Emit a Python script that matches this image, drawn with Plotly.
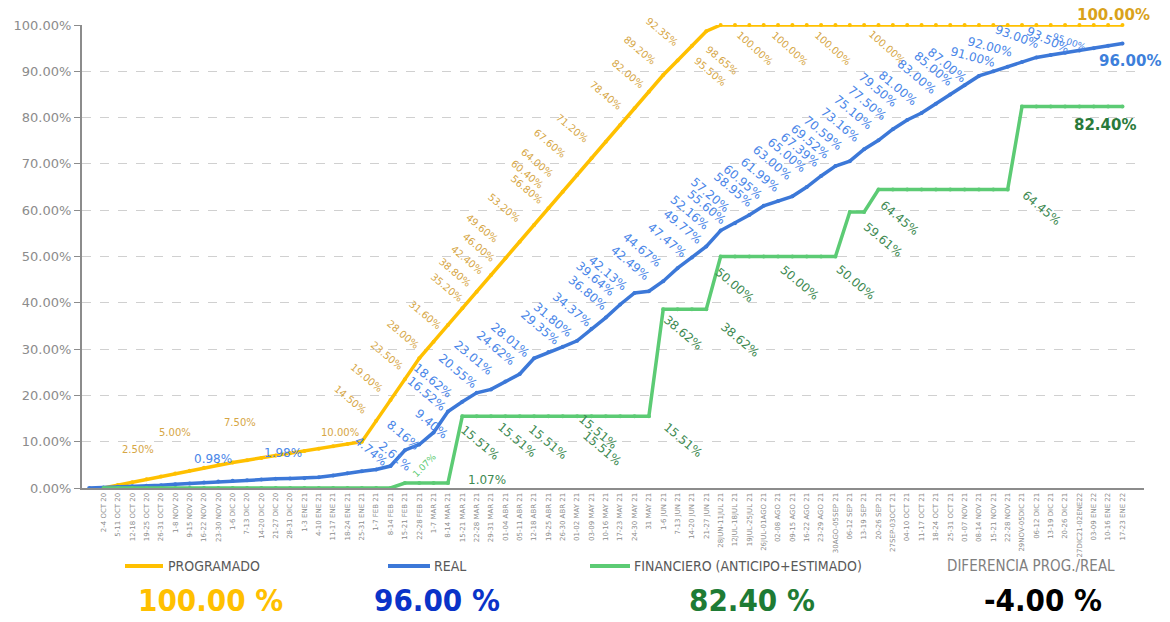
import plotly.graph_objects as go

# ---------------- DATA ----------------
categories = [
    "", "2-4 OCT 20", "5-11 OCT 20", "12-18 OCT 20", "19-25 OCT 20", "26-31 OCT 20",
    "1-8 NOV 20", "9-15 NOV 20", "16-22 NOV 20", "23-30 NOV 20", "1-6 DIC 20",
    "7-13 DIC 20", "14-20 DIC 20", "21-27 DIC 20", "28-31 DIC 20", "1-3 ENE 21",
    "4-10 ENE 21", "11-17 ENE 21", "18-24 ENE 21", "25-31 ENE 21", "1-7 FEB 21",
    "8-14 FEB 21", "15-21 FEB 21", "22-28 FEB 21", "1-7 MAR 21", "8-14 MAR 21",
    "15-21 MAR 21", "22-28 MAR 21", "29-31 MAR 21", "01-04 ABR 21", "05-11 ABR 21",
    "12-18 ABR 21", "19-25 ABR 21", "26-30 ABR 21", "01-02 MAY 21", "03-09 MAY 21",
    "10-16 MAY 21", "17-23 MAY 21", "24-30 MAY 21", "31 MAY 21", "1-6 JUN 21",
    "7-13 JUN 21", "14-20 JUN 21", "21-27 JUN 21", "28JUN-11JUL 21", "12JUL-18JUL 21",
    "19JUL-25JUL 21", "26JUL-01AGO 21", "02-08 AGO 21", "09-15 AGO 21", "16-22 AGO 21",
    "23-29 AGO 21", "30AGO-05SEP 21", "06-12 SEP 21", "13-19 SEP 21", "20-26 SEP 21",
    "27SEP-03OCT 21", "04-10 OCT 21", "11-17 OCT 21", "18-24 OCT 21", "25-31 OCT 21",
    "01-07 NOV 21", "08-14 NOV 21", "15-21 NOV 21", "22-28 NOV 21", "29NOV-05DIC 21",
    "06-12 DIC 21", "13-19 DIC 21", "20-26 DIC 21", "27DIC21-02ENE22", "03-09 ENE 22",
    "10-16 ENE 22", "17-23 ENE 22",
]

programado = [
    None, 0.00, 0.63, 1.25, 1.88, 2.50, 3.13, 3.75, 4.38, 5.00,
    5.50, 6.00, 6.50, 7.00, 7.50, 8.00, 8.50, 9.00, 9.50, 10.00,
    14.50, 19.00, 23.50, 28.00, 31.60, 35.20, 38.80, 42.40, 46.00, 49.60,
    53.20, 56.80, 60.40, 64.00, 67.60, 71.20, 74.80, 78.40, 82.00, 85.60,
    89.20, 92.35, 95.50, 98.65, 100.00, 100.00, 100.00, 100.00, 100.00, 100.00,
    100.00, 100.00, 100.00, 100.00, 100.00, 100.00, 100.00, 100.00, 100.00, 100.00,
    100.00, 100.00, 100.00, 100.00, 100.00, 100.00, 100.00, 100.00, 100.00, 100.00,
    100.00, 100.00, 100.00,
]

real = [
    0.00, 0.10, 0.25, 0.40, 0.50, 0.60, 0.80, 0.98, 1.20, 1.40,
    1.55, 1.70, 1.85, 1.98, 2.05, 2.10, 2.30, 2.70, 3.20, 3.60,
    4.00, 4.74, 8.16, 9.40, 12.00, 16.52, 18.62, 20.55, 21.30, 23.01,
    24.62, 28.01, 29.35, 30.50, 31.80, 34.37, 36.80, 39.64, 42.13, 42.49,
    44.67, 47.47, 49.77, 52.16, 55.60, 57.20, 58.95, 60.95, 61.99, 63.00,
    65.00, 67.39, 69.52, 70.59, 73.16, 75.10, 77.50, 79.50, 81.00, 83.00,
    85.00, 87.00, 89.00, 90.00, 91.00, 92.00, 93.00, 93.50, 94.00, 94.50,
    95.00, 95.50, 96.00,
]

financiero = [
    None, 0.00, 0.00, 0.00, 0.00, 0.00, 0.00, 0.00, 0.00, 0.00,
    0.00, 0.00, 0.00, 0.00, 0.00, 0.00, 0.00, 0.00, 0.00, 0.00,
    0.00, 0.00, 1.07, 1.07, 1.07, 1.07, 15.51, 15.51, 15.51, 15.51,
    15.51, 15.51, 15.51, 15.51, 15.51, 15.51, 15.51, 15.51, 15.51, 15.51,
    38.62, 38.62, 38.62, 38.62, 50.00, 50.00, 50.00, 50.00, 50.00, 50.00,
    50.00, 50.00, 50.00, 59.61, 59.61, 64.45, 64.45, 64.45, 64.45, 64.45,
    64.45, 64.45, 64.45, 64.45, 64.45, 82.40, 82.40, 82.40, 82.40, 82.40,
    82.40, 82.40, 82.40,
]

summary_names = ["PROGRAMADO", "REAL", "FINANCIERO (ANTICIPO+ESTIMADO)", "DIFERENCIA PROG./REAL"]
summary_values = ["100.00 %", "96.00 %", "82.40 %", "-4.00 %"]

# labelled points: (category index, text)
prog_labels = [(5, "2.50%"), (9, "5.00%"), (14, "7.50%"), (19, "10.00%"), (20, "14.50%"),
               (21, "19.00%"), (22, "23.50%"), (23, "28.00%"), (24, "31.60%"), (25, "35.20%"),
               (26, "38.80%"), (27, "42.40%"), (28, "46.00%"), (29, "49.60%"), (30, "53.20%"),
               (31, "56.80%"), (32, "60.40%"), (33, "64.00%"), (34, "67.60%"), (35, "71.20%"),
               (37, "78.40%"), (38, "82.00%"), (40, "89.20%"), (41, "92.35%"), (42, "95.50%"),
               (43, "98.65%"), (46, "100.00%"), (48, "100.00%"), (51, "100.00%"), (55, "100.00%")]
real_labels = [(7, "0.98%"), (13, "1.98%"), (21, "4.74%"), (21, "2.61%"), (22, "8.16%"),
               (23, "9.40%"), (25, "16.52%"), (26, "18.62%"), (27, "20.55%"), (29, "23.01%"),
               (30, "24.62%"), (31, "28.01%"), (32, "29.35%"), (34, "31.80%"), (35, "34.37%"),
               (36, "36.80%"), (37, "39.64%"), (38, "42.13%"), (39, "42.49%"), (40, "44.67%"),
               (41, "47.47%"), (42, "49.77%"), (43, "52.16%"), (44, "55.60%"), (45, "57.20%"),
               (46, "58.95%"), (47, "60.95%"), (48, "61.99%"), (49, "63.00%"), (50, "65.00%"),
               (51, "67.39%"), (52, "69.52%"), (53, "70.59%"), (54, "73.16%"), (55, "75.10%"),
               (56, "77.50%"), (57, "79.50%"), (58, "81.00%"), (59, "83.00%"), (60, "85.00%"),
               (61, "87.00%"), (64, "91.00%"), (65, "92.00%"), (66, "93.00%"), (67, "93.50%"),
               (70, "95.00%")]
fin_labels = [(22, "1.07%"), (25, "1.07%"), (26, "15.51%"), (28, "15.51%"), (30, "15.51%"),
              (34, "15.51%"), (35, "15.51%"), (39, "15.51%"), (40, "38.62%"), (43, "38.62%"),
              (44, "50.00%"), (48, "50.00%"), (52, "50.00%"), (54, "59.61%"), (55, "64.45%"),
              (64, "64.45%")]

# ---------------- LABEL PLACEMENT (pixel offsets dx, dy(down), angle) ----------------
prog_place = [(-23, -27, 0), (-43, -32, 0), (-50, -31, 0), (-22, -9, 0), (-26, -21, 40),
              (-24, -23, 40), (-18, -24, 40), (-16, -24, 40), (-9, -27, 40), (-1, -38, 40),
              (-7, -36, 40), (-10, -32, 40), (-12, -28, 40), (-23, -30, 40), (-16, -34, 40),
              (-7, -36, 40), (-21, -34, 40), (-26, -29, 40), (-27, -32, 40), (-19, -30, 40),
              (-14, -30, 40), (-7, -35, 40), (-23, -25, 40), (-16, -29, 40), (18, 26, 40),
              (16, 29, 40), (6, 23, 42), (12, 23, 42), (12, 23, 42), (9, 22, 42)]
real_place = [(23, -24, 0), (7, -26, 0), (-20, -15, 40), (4, -10, 40), (-2, -15, 40),
              (12, -20, 40), (-21, -18, 40), (-29, -21, 40), (-19, -22, 40), (-32, -23, 40),
              (-24, -26, 40), (-24, -18, 40), (-8, -24, 40), (-24, -21, 40), (-19, -19, 40),
              (-18, -25, 40), (-25, -25, 40), (-27, -20, 40), (-19, -28, 40), (-21, -31, 40),
              (-11, -28, 40), (-9, -31, 40), (-16, -34, 40), (-14, -24, 40), (-25, -28, 40),
              (-16, -25, 40), (-21, -24, 40), (-18, -26, 40), (-20, -33, 40), (-20, -32, 40),
              (-21, -26, 40), (-25, -24, 40), (-27, -28, 40), (-24, -24, 40), (-26, -28, 40),
              (-26, -26, 40), (-29, -30, 40), (-24, -25, 40), (-19, -27, 40), (-17, -25, 40),
              (-18, -20, 40), (-35, -10, 15), (-32, -15, 15), (-19, -20, 20), (-3, -15, 25),
              (-24, -6, 20)]
fin_place = [(20, -18, -45), (39, -3, 0), (18, 27, 40), (26, 24, 40), (28, 26, 40),
             (21, 16, 40), (11, 33, 40), (34, 24, 40), (20, 24, 40), (34, 31, 40),
             (14, 28, 40), (22, 26, 40), (21, 26, 40), (19, 28, 40), (21, 28, 40),
             (34, 18, 40)]

C_PROG = "#FFC000"
C_REAL = "#3C78D8"
C_FIN = "#5CCB74"
LBL_PROG = "#D6A645"
LBL_REAL = "#4A86E8"
LBL_FIN = "#3E8A52"
LABEL_FONT = "DejaVu Sans, Verdana, sans-serif"
BIG_FONT = "DejaVu Sans Condensed, Liberation Sans Narrow, sans-serif"

x = list(range(len(categories)))

fig = go.Figure()
for name, ys, col in [("PROGRAMADO", programado, C_PROG),
                      ("REAL", real, C_REAL),
                      ("FINANCIERO (ANTICIPO+ESTIMADO)", financiero, C_FIN)]:
    fig.add_trace(go.Scatter(
        x=x, y=ys, name=name, mode="lines+markers",
        line=dict(color=col, width=3.5),
        marker=dict(color=col, size=4),
        cliponaxis=False, showlegend=False,
    ))

annotations = []


def add_labels(series, labels, places, color, size):
    for (i, txt), (dx, dy, ang) in zip(labels, places):
        c, s = color, size
        if ang < 0:
            c, s = C_FIN, 9
        if txt == "95.00%":
            s = 9
        annotations.append(dict(
            x=i, y=series[i], xref="x", yref="y", text=txt, showarrow=False,
            xshift=dx, yshift=-dy, textangle=ang,
            xanchor="center", yanchor="middle",
            font=dict(family=LABEL_FONT, size=s, color=c),
        ))


add_labels(programado, prog_labels, prog_place, LBL_PROG, 10)
add_labels(real, real_labels, real_place, LBL_REAL, 12)
add_labels(financiero, fin_labels, fin_place, LBL_FIN, 12)

# bold final values
last = len(categories) - 1
for ys, txt, dx, dy, col in [(programado, "100.00%", -9, -10, "#D9A21B"),
                             (real, "96.00%", 8, 17, "#3D7FDB"),
                             (financiero, "82.40%", -17, 19, "#2A7A3B")]:
    annotations.append(dict(
        x=last, y=ys[last], xref="x", yref="y", text="<b>%s</b>" % txt, showarrow=False,
        xshift=dx, yshift=-dy, xanchor="center", yanchor="middle",
        font=dict(family=LABEL_FONT, size=15, color=col),
    ))

# ---------------- bottom legend / summary ----------------
L, R, T, B = 82, 26, 25, 134
W, H = 1170, 622
PW, PH = W - L - R, H - T - B


def px(xp):
    return (xp - L) / PW


def py(yp):
    return (H - B - yp) / PH


shapes = []
leg_items = [(125, 163, C_PROG, 166), (388, 430, C_REAL, 432), (590, 630, C_FIN, 632), (None, None, None, 945)]
for (x0, x1, col, tx), name in zip(leg_items, summary_names):
    if x0 is not None:
        shapes.append(dict(type="line", xref="paper", yref="paper",
                           x0=px(x0), x1=px(x1), y0=py(566), y1=py(566),
                           line=dict(color=col, width=4)))
    annotations.append(dict(
        x=px(tx), y=py(566), xref="paper", yref="paper", text=name, showarrow=False,
        xanchor="left", yanchor="middle",
        font=dict(family=BIG_FONT, size=15 if x0 is None else 14,
                  color="#7F7F7F" if x0 is None else "#595959"),
    ))

for cx, txt, col in zip([210, 437, 752, 1043], summary_values, [C_PROG, "#0A33C8", "#1E7B34", "#000000"]):
    annotations.append(dict(
        x=px(cx), y=py(600), xref="paper", yref="paper", text="<b>%s</b>" % txt, showarrow=False,
        xanchor="center", yanchor="middle",
        font=dict(family=BIG_FONT, size=31, color=col),
    ))

fig.update_layout(
    width=W, height=H,
    margin=dict(l=L, r=R, t=T, b=B),
    paper_bgcolor="white", plot_bgcolor="white",
    annotations=annotations, shapes=shapes,
    xaxis=dict(
        range=[-0.5, len(categories) + 0.5],
        tickmode="array", tickvals=x, ticktext=categories, tickangle=-90,
        tickfont=dict(family="DejaVu Sans, sans-serif", size=7, color="#8C8C8C"),
        showgrid=False, zeroline=False, showline=True, linecolor="#8C8C8C", linewidth=2,
        ticks="", automargin=False,
    ),
    yaxis=dict(
        range=[0, 100], tickmode="linear", tick0=0, dtick=10,
        tickformat=".2f", ticksuffix="%",
        tickfont=dict(family="DejaVu Sans, Verdana, sans-serif", size=13, color="#8C8C8C"),
        showgrid=True, gridcolor="#D0D0D0", griddash="dash", gridwidth=1,
        zeroline=False, showline=True, linecolor="#8C8C8C", linewidth=2,
        ticks="outside", ticklen=6, tickcolor="#8C8C8C", automargin=False,
    ),
)

fig.write_html("out.html", config={"displayModeBar": False},
               post_script="document.body.style.margin='0px';")
